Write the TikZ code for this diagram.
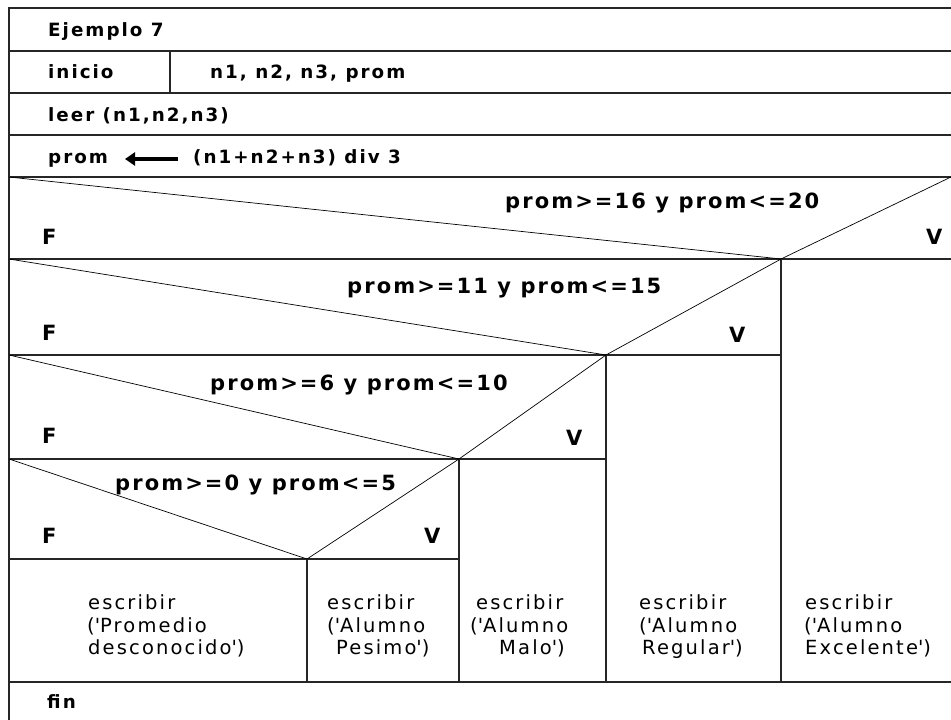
\documentclass[tikz,border=0pt]{standalone}
\usepackage{fontspec}
\setmainfont{DejaVu Sans}
\newfontfamily\hdfont[LetterSpace=11]{DejaVu Sans Bold}
\newfontfamily\cdfont[LetterSpace=10]{DejaVu Sans Bold}
\newfontfamily\btfont[LetterSpace=11]{DejaVu Sans}
\usetikzlibrary{arrows.meta}
\tikzset{
  frame/.style={line width=1.2pt, draw=black!85},
  diag/.style={line width=0.7pt, draw=black},
  hd/.style={anchor=base west, inner sep=0pt, font=\hdfont\fontsize{18.3}{22}\selectfont},
  cd/.style={anchor=base west, inner sep=0pt, font=\cdfont\fontsize{21}{25}\selectfont},
  bt/.style={anchor=base west, inner sep=0pt, font=\btfont\fontsize{19.5}{22.5}\selectfont},
}
\newcommand{\q}{\textquotesingle}
\begin{document}
\begin{tikzpicture}[x=1pt,y=-1pt]
\useasboundingbox (0,0) rectangle (951,720);
\clip (0,0) rectangle (951,720);
% outer frame and header rows
\draw[frame] (9,8) rectangle (956,724);
\draw[frame] (9,51) -- (956,51);
\draw[frame] (9,93) -- (956,93);
\draw[frame] (9,135) -- (956,135);
\draw[frame] (9,177) -- (956,177);
\draw[frame] (170,51) -- (170,93);
% decision level lines
\draw[frame] (9,259) -- (956,259);
\draw[frame] (9,355) -- (781,355);
\draw[frame] (9,459) -- (606,459);
\draw[frame] (9,559) -- (459,559);
\draw[frame] (9,682) -- (956,682);
% verticals
\draw[frame] (781,259) -- (781,682);
\draw[frame] (606,355) -- (606,682);
\draw[frame] (459,459) -- (459,682);
\draw[frame] (307,559) -- (307,682);
% apexes
\coordinate (a1) at (781,259);
\coordinate (a2) at (606,355);
\coordinate (a3) at (459,459);
\coordinate (a4) at (307,559);
\coordinate (l1) at (9,177);  \coordinate (r1) at (951,177);
\coordinate (l2) at (9,259);  \coordinate (r2) at (781,259);
\coordinate (l3) at (9,355);  \coordinate (r3) at (606,355);
\coordinate (l4) at (9,459);  \coordinate (r4) at (459,459);
\draw[diag] (l1) -- (a1) -- (r1);
\draw[diag] (l2) -- (a2) -- (r2);
\draw[diag] (l3) -- (a3) -- (r3);
\draw[diag] (l4) -- (a4) -- (r4);
% header texts
\node[hd] (t0) at (48,36) {Ejemplo 7};
\node[hd] (t1) at (48,78) {inicio};
\node[hd] (t2) at (210,78) {n1, n2, n3, prom};
\node[hd] (t3) at (48,121) {leer (n1,n2,n3)};
\node[hd] (t4) at (48,163) {prom};
\node[hd] (t5) at (193,163) {(n1+n2+n3) div 3};
\coordinate (arS) at (178,159);
\coordinate (arE) at (125,159);
\draw[line width=3.5pt, -{Triangle[length=10pt,width=13pt]}] (arS) -- (arE);
% conditions
\node[cd] (c1) at (505,208) {prom>=16 y prom<=20};
\node[cd] (f1) at (42,244) {F};
\node[cd] (v1) at (926,244) {V};
\node[cd] (c2) at (347,293) {prom>=11 y prom<=15};
\node[cd] (f2) at (42,340) {F};
\node[cd] (v2) at (729,342) {V};
\node[cd] (c3) at (210,390) {prom>=6 y prom<=10};
\node[cd] (f3) at (42,443) {F};
\node[cd] (v3) at (566,445) {V};
\node[cd] (c4) at (115,490) {prom>=0 y prom<=5};
\node[cd] (f4) at (42,543) {F};
\node[cd] (v4) at (424,543) {V};
% bottom boxes
\node[bt] (b1a) at (88,609) {escribir};
\node[bt] (b1b) at (87,632) {(\q Promedio};
\node[bt] (b1c) at (88,654) {desconocido\q)};
\node[bt] (b2a) at (327,609) {escribir};
\node[bt] (b2b) at (327,632) {(\q Alumno};
\node[bt] (b2c) at (336,654) {Pesimo\q)};
\node[bt] (b3a) at (476,609) {escribir};
\node[bt] (b3b) at (470,632) {(\q Alumno};
\node[bt] (b3c) at (499,654) {Malo\q)};
\node[bt] (b4a) at (639,609) {escribir};
\node[bt] (b4b) at (639,632) {(\q Alumno};
\node[bt] (b4c) at (642,654) {Regular\q)};
\node[bt] (b5a) at (805,609) {escribir};
\node[bt] (b5b) at (804,632) {(\q Alumno};
\node[bt] (b5c) at (805,654) {Excelente\q)};
\node[hd] (fin) at (47,708) {fin};
\end{tikzpicture}
\end{document}
